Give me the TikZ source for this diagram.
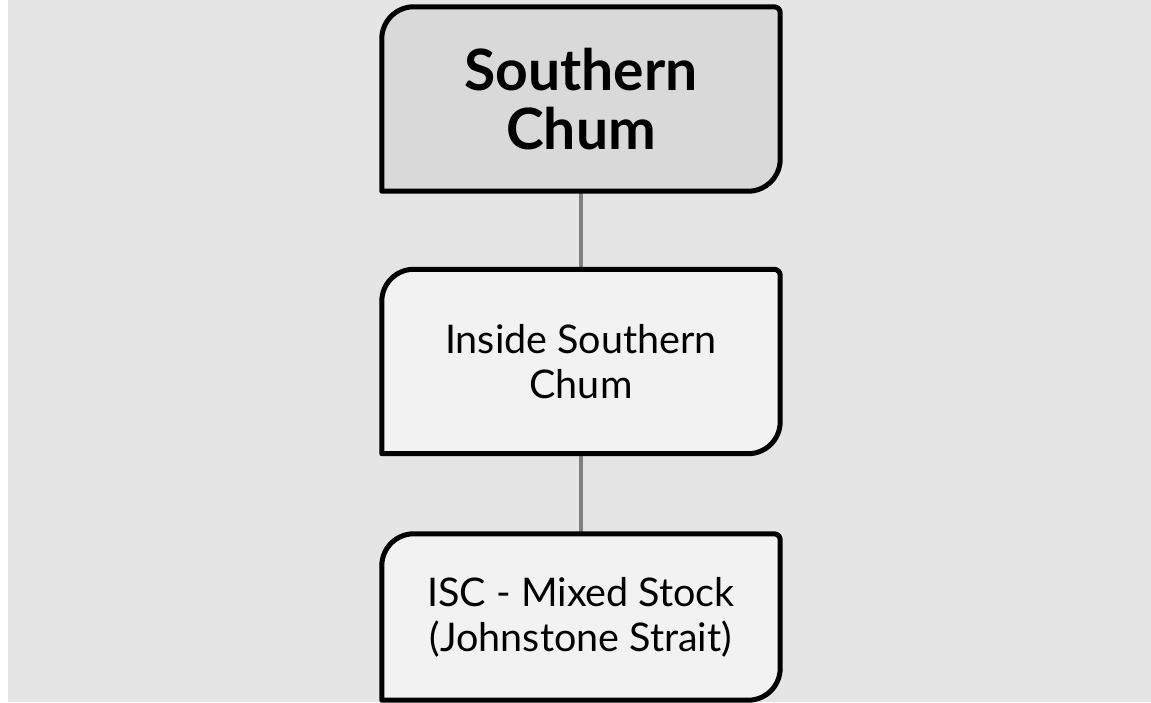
\documentclass[tikz,border=0pt]{standalone}
\usepackage{fontspec}
\setmainfont{Lato}
\usetikzlibrary{positioning, backgrounds}
\definecolor{canvas}{RGB}{229,229,229}
\definecolor{headfill}{RGB}{217,217,217}
\definecolor{subfill}{RGB}{242,242,242}
\definecolor{linkgray}{RGB}{128,128,128}

\begin{document}
\begin{tikzpicture}[x=1pt, y=1pt,
    stock/.style={rectangle, inner sep=0pt, minimum width=398pt, align=center},
    head/.style={stock, minimum height=184pt, font=\fontsize{57}{59}\selectfont\bfseries},
    sub/.style={stock, font=\fontsize{39.5}{45}\selectfont},
    frame/.style={line width=5pt, line join=round},
    link/.style={draw=linkgray, line width=3.5pt}]

\useasboundingbox (0,0) rectangle (1151,702);

%% Boxes
\node[head] (root) at (581,603) {Southern\\Chum};
\node[sub, minimum height=184pt] (inside) at (581,340.5) {Inside Southern\\Chum};
\node[sub, minimum height=166pt] (mixed) at (581,85) {ISC - Mixed Stock\\(Johnstone Strait)};

\begin{scope}[on background layer]
%% Canvas
\fill[canvas] (8,0) rectangle (1151,702);

%% Links
\draw[link] (root) -- (inside);
\draw[link] (inside) -- (mixed);

%% Outlines, round top left and bottom right
\foreach \n/\c in {root/headfill, inside/subfill, mixed/subfill}
  \draw[frame, fill=\c] (\n.south west) -- ([yshift=-32pt]\n.north west)
      arc[start angle=180, end angle=90, radius=32pt]
      -- ([xshift=-6pt]\n.north east) arc[start angle=90, end angle=0, radius=6pt]
      -- ([yshift=32pt]\n.south east) arc[start angle=0, end angle=-90, radius=32pt]
      -- cycle;
\end{scope}
\end{tikzpicture}
\end{document}
